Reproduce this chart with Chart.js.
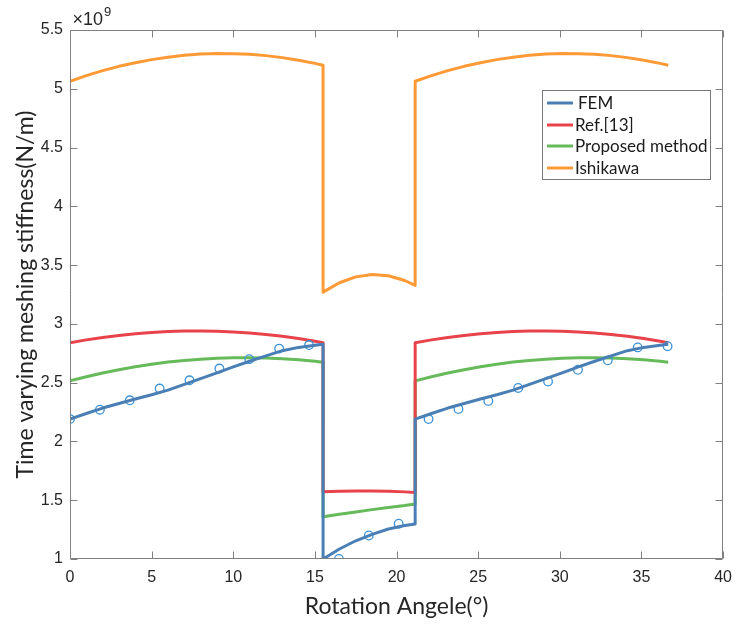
<!DOCTYPE html>
<html>
<head>
<meta charset="utf-8">
<script src="https://cdn.jsdelivr.net/npm/chart.js@4.4.1/dist/chart.umd.min.js"></script>
<style>
  html, body { margin: 0; padding: 0; background: #ffffff; }
  #wrap { width: 741px; height: 628px; }
</style>
</head>
<body>
<div id="wrap"><canvas id="c" width="741" height="628"></canvas></div>
<script>
// ---- Data (stiffness in units of 1e9 N/m, angle in degrees) ----
const seriesNames = ['FEM', 'Ref.[13]', 'Proposed method', 'Ishikawa'];

const angles = [
  0, 1, 2, 3, 4, 5, 6, 7, 8, 9, 10, 11, 12, 13, 14, 15, 15.5,
  15.5, 16.5, 17.5, 18.5, 19.5, 20.5, 21.14,
  21.14, 22.14, 23.14, 24.14, 25.14, 26.14, 27.14, 28.14, 29.14, 30.14, 31.14, 32.14, 33.14, 34.14, 35.14, 36.14, 36.64
];

const femValues = [
  2.190, 2.238, 2.284, 2.323, 2.361, 2.397, 2.437, 2.486, 2.534, 2.584, 2.634, 2.682, 2.728, 2.772, 2.800, 2.818, 2.826,
  1.000, 1.085, 1.155, 1.210, 1.255, 1.285, 1.298,
  2.190, 2.238, 2.284, 2.323, 2.361, 2.397, 2.437, 2.486, 2.534, 2.584, 2.634, 2.682, 2.728, 2.772, 2.800, 2.818, 2.826
];

const refValues = [
  2.840, 2.864, 2.885, 2.902, 2.917, 2.927, 2.935, 2.939, 2.940, 2.937, 2.932, 2.922, 2.910, 2.894, 2.875, 2.853, 2.840,
  1.573, 1.577, 1.578, 1.578, 1.576, 1.571, 1.566,
  2.840, 2.864, 2.885, 2.902, 2.917, 2.927, 2.935, 2.939, 2.940, 2.937, 2.932, 2.922, 2.910, 2.894, 2.875, 2.853, 2.840
];

const proposedValues = [
  2.515, 2.550, 2.582, 2.610, 2.635, 2.657, 2.675, 2.689, 2.700, 2.708, 2.712, 2.713, 2.710, 2.704, 2.695, 2.682, 2.674,
  1.360, 1.380, 1.400, 1.420, 1.438, 1.455, 1.468,
  2.515, 2.550, 2.582, 2.610, 2.635, 2.657, 2.675, 2.689, 2.700, 2.708, 2.712, 2.713, 2.710, 2.704, 2.695, 2.682, 2.674
];

const ishikawaValues = [
  5.064, 5.112, 5.154, 5.191, 5.222, 5.248, 5.269, 5.285, 5.295, 5.300, 5.299, 5.293, 5.282, 5.265, 5.243, 5.216, 5.200,
  3.270, 3.350, 3.400, 3.420, 3.409, 3.369, 3.328,
  5.064, 5.112, 5.154, 5.191, 5.222, 5.248, 5.269, 5.285, 5.295, 5.300, 5.299, 5.293, 5.282, 5.265, 5.243, 5.216, 5.200
];

const femMarkerAngles = [
  0, 1.83, 3.66, 5.49, 7.32, 9.15, 10.98, 12.81, 14.64, 16.47, 18.30,
  20.13, 21.96, 23.79, 25.62, 27.45, 29.28, 31.11, 32.94, 34.77, 36.60
];
const femMarkerValues = [
  2.19, 2.27, 2.35, 2.45, 2.52, 2.62, 2.70, 2.79, 2.82, 1.00, 1.20,
  1.30, 2.19, 2.275, 2.345, 2.455, 2.51, 2.61, 2.69, 2.80, 2.81
];

const xTitle = 'Rotation Angele(°)';
const yTitle = 'Time varying meshing stiffness(N/m)';
const yExponent = '9';

// ---- Styles ----
const colors = ['#4a7fb5', '#e8434b', '#66ba5a', '#fd9a36'];
const markerColor = '#3a92d8';
const axisColor = '#808080';
const textColor = '#262626';

function pairs(xs, ys) { return xs.map((x, i) => ({ x: x, y: ys[i] })); }

const lineSets = [femValues, refValues, proposedValues, ishikawaValues];

const datasets = [];
lineSets.forEach((vals, i) => {
  datasets.push({
    label: seriesNames[i],
    data: pairs(angles, vals),
    borderColor: colors[i],
    backgroundColor: colors[i],
    borderWidth: 3,
    pointRadius: 0,
    tension: 0,
    fill: false,
    borderJoinStyle: 'round'
  });
  if (i === 0) {
    datasets.push({
      label: 'FEM points',
      data: pairs(femMarkerAngles, femMarkerValues),
      showLine: false,
      pointStyle: 'circle',
      pointRadius: 4.3,
      pointBorderWidth: 1.3,
      pointBorderColor: markerColor,
      pointBackgroundColor: 'rgba(0,0,0,0)',
      borderColor: markerColor,
      backgroundColor: 'rgba(0,0,0,0)'
    });
  }
});

const framePlugin = {
  id: 'frame',
  afterDatasetsDraw(chart) {
    const { ctx, chartArea, scales } = chart;
    const L = Math.round(chartArea.left) + 0.5;
    const R = Math.round(chartArea.right) - 0.5;
    const T = Math.round(chartArea.top) + 0.5;
    const B = Math.round(chartArea.bottom) - 0.5;
    const tl = 7;
    ctx.save();
    ctx.strokeStyle = axisColor;
    ctx.lineWidth = 1;
    ctx.beginPath();
    ctx.rect(L, T, R - L, B - T);
    scales.x.ticks.forEach(t => {
      const px = Math.round(scales.x.getPixelForValue(t.value)) + 0.5;
      ctx.moveTo(px, B); ctx.lineTo(px, B - tl);
      ctx.moveTo(px, T); ctx.lineTo(px, T + tl);
    });
    scales.y.ticks.forEach(t => {
      const py = Math.round(scales.y.getPixelForValue(t.value)) + 0.5;
      ctx.moveTo(L, py); ctx.lineTo(L + tl, py);
      ctx.moveTo(R, py); ctx.lineTo(R - tl, py);
    });
    ctx.stroke();

    // exponent label
    ctx.fillStyle = textColor;
    ctx.textBaseline = 'alphabetic';
    ctx.textAlign = 'left';
    ctx.font = '18px "Liberation Sans", Arial, sans-serif';
    const base = '\u00d710';
    ctx.fillText(base, L + 2, T - 6);
    const w = ctx.measureText(base).width;
    ctx.font = '13px "Liberation Sans", Arial, sans-serif';
    ctx.fillText(yExponent, L + 2 + w + 1, T - 15);

    // legend
    const bx = 542.5, by = 90.5, bw = 168, bh = 89;
    ctx.fillStyle = '#ffffff';
    ctx.fillRect(bx, by, bw, bh);
    ctx.strokeStyle = '#777777';
    ctx.lineWidth = 1;
    ctx.strokeRect(bx, by, bw, bh);
    const rows = [103, 125, 146, 168];
    ctx.font = '17px Lato, "Open Sans", sans-serif';
    ctx.textBaseline = 'middle';
    seriesNames.forEach((name, i) => {
      ctx.strokeStyle = colors[i];
      ctx.lineWidth = 3;
      ctx.beginPath();
      ctx.moveTo(547, rows[i]);
      ctx.lineTo(573, rows[i]);
      ctx.stroke();
      ctx.fillStyle = '#1a1a1a';
      ctx.fillText(name, i === 0 ? 578 : 575, rows[i] + 1);
    });
    ctx.restore();
  }
};

const fmt = v => String(Math.round(v * 10) / 10);

new Chart(document.getElementById('c'), {
  type: 'line',
  data: { datasets: datasets },
  options: {
    responsive: false,
    animation: false,
    devicePixelRatio: 1,
    layout: { padding: { left: 0, right: 10, top: 30, bottom: 0 } },
    plugins: { legend: { display: false }, tooltip: { enabled: false } },
    scales: {
      x: {
        type: 'linear',
        min: 0, max: 40,
        afterFit(s) { s.height = 69; },
        border: { display: false },
        grid: { display: true, drawOnChartArea: false, drawTicks: false, color: 'rgba(0,0,0,0)' },
        ticks: { stepSize: 5, padding: 9, color: textColor, callback: fmt, font: { family: '"Liberation Sans", Arial, sans-serif', size: 16 } },
        title: { display: true, text: xTitle, color: textColor, padding: { top: 0, bottom: 8 }, font: { family: 'Lato, "Open Sans", sans-serif', size: 23 } }
      },
      y: {
        type: 'linear',
        min: 1, max: 5.5,
        afterFit(s) { s.width = 70; },
        border: { display: false },
        grid: { display: true, drawOnChartArea: false, drawTicks: false, color: 'rgba(0,0,0,0)' },
        ticks: { stepSize: 0.5, padding: 7, color: textColor, callback: fmt, font: { family: '"Liberation Sans", Arial, sans-serif', size: 16 } },
        title: { display: true, text: yTitle, color: textColor, padding: { top: 12, bottom: 0 }, font: { family: 'Lato, "Open Sans", sans-serif', size: 23 } }
      }
    }
  },
  plugins: [framePlugin]
});
</script>
</body>
</html>
